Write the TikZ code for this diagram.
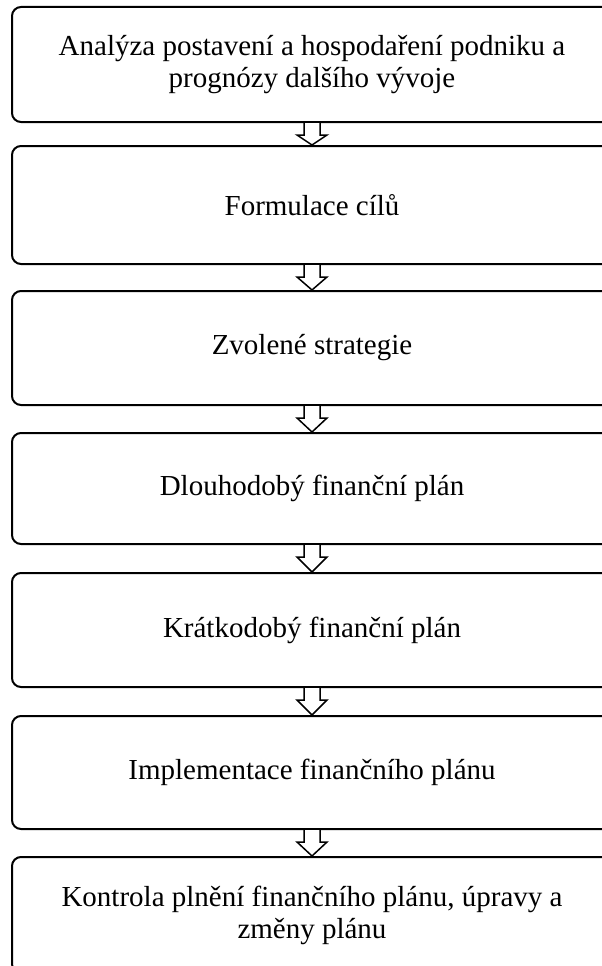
\documentclass[tikz,border=0pt]{standalone}
\usepackage{fontspec}
\setmainfont{Liberation Serif}
\usetikzlibrary{calc}
\tikzset{
  stagebox/.style={draw=black, line width=2pt, rounded corners=9pt, fill=white,
    minimum width=600pt, align=center, inner sep=0pt,
    font=\fontsize{29}{32}\selectfont, anchor=north},
  blockarr/.style={draw=black, line width=1.5pt, fill=white, line join=miter}
}
\newcommand{\flowarrow}[2]{%
  \draw[blockarr] ($(#1.south)+(-8,0)$) -- ($(#1.south)+(-8,-12)$) -- ($(#1.south)+(-15,-12)$)
    -- (#2.north) -- ($(#1.south)+(15,-12)$) -- ($(#1.south)+(8,-12)$) -- ($(#1.south)+(8,0)$);}
\begin{document}
\begin{tikzpicture}[x=1pt,y=1pt]
\useasboundingbox (0,0) rectangle (602,-966);
\clip (0,0) rectangle (602,-966);
\node[stagebox, minimum height=115pt] (b1) at (312,-6) {Analýza postavení a hospodaření podniku a\\prognózy dalšího vývoje};
\node[stagebox, minimum height=118pt] (b2) at (312,-145) {Formulace cílů};
\node[stagebox, minimum height=114pt] (b3) at (312,-290) {Zvolené strategie};
\node[stagebox, minimum height=111pt] (b4) at (312,-432) {Dlouhodobý finanční plán};
\node[stagebox, minimum height=114pt] (b5) at (312,-572) {Krátkodobý finanční plán};
\node[stagebox, minimum height=113pt] (b6) at (312,-715) {Implementace finančního plánu};
\node[stagebox, minimum height=116pt] (b7) at (312,-856) {Kontrola plnění finančního plánu, úpravy a\\změny plánu};
\flowarrow{b1}{b2}
\flowarrow{b2}{b3}
\flowarrow{b3}{b4}
\flowarrow{b4}{b5}
\flowarrow{b5}{b6}
\flowarrow{b6}{b7}
\end{tikzpicture}
\end{document}
